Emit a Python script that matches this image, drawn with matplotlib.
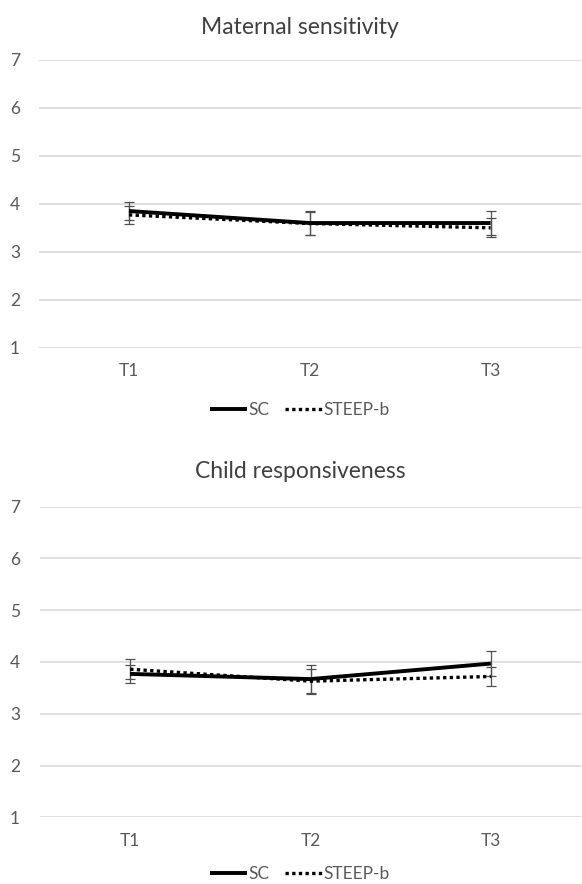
import matplotlib
matplotlib.use("Agg")
import matplotlib.pyplot as plt
import numpy as np

plt.rcParams['font.family'] = ['Lato', 'DejaVu Sans']

timepoints = ["T1", "T2", "T3"]
series_names = ["SC", "STEEP-b"]

# Maternal sensitivity
ms_sc = [3.85, 3.60, 3.60]
ms_sc_err = [0.18, 0.25, 0.25]
ms_steep = [3.77, 3.59, 3.50]
ms_steep_err = [0.18, 0.24, 0.20]

# Child responsiveness
cr_sc = [3.77, 3.67, 3.97]
cr_sc_err = [0.18, 0.28, 0.24]
cr_steep = [3.86, 3.63, 3.72]
cr_steep_err = [0.19, 0.23, 0.18]

titles = ["Maternal sensitivity", "Child responsiveness"]
yticks = [1, 2, 3, 4, 5, 6, 7]

W, H = 582, 884
fig = plt.figure(figsize=(W / 100, H / 100), dpi=100)
fig.patch.set_facecolor("white")

grid_c = "#d9d9d9"
text_c = "#595959"
px2pt = 72 / 100

panels = [
    dict(left=38.5, top=60, bot=347.7, title_y=27, legend_y=410,
         sc=ms_sc, sce=ms_sc_err, st=ms_steep, ste=ms_steep_err, title=titles[0]),
    dict(left=40, top=506.7, bot=817.3, title_y=472, legend_y=874,
         sc=cr_sc, sce=cr_sc_err, st=cr_steep, ste=cr_steep_err, title=titles[1]),
]

right_px = 581
for p in panels:
    left_px = p["left"]
    ax = fig.add_axes([left_px / W, 1 - p["bot"] / H, (right_px - left_px) / W, (p["bot"] - p["top"]) / H])
    x = np.arange(len(timepoints))
    ax.errorbar(x, p["st"], yerr=p["ste"], fmt="none", ecolor="#505050", elinewidth=0.9,
                capsize=3.5, capthick=0.9, zorder=3)
    ax.errorbar(x, p["sc"], yerr=p["sce"], fmt="none", ecolor="#505050", elinewidth=0.9,
                capsize=3.5, capthick=0.9, zorder=3)
    l1, = ax.plot(x, p["sc"], color="black", lw=2.8, solid_capstyle="butt", label=series_names[0], zorder=4)
    l2, = ax.plot(x, p["st"], color="black", lw=2.4, linestyle=(0, (1, 1)), label=series_names[1], zorder=4)
    ax.set_xlim(-0.5, len(timepoints) - 0.5)
    ax.set_ylim(1, 7)
    ax.set_yticks(yticks)
    ax.set_xticks(x)
    ax.set_xticklabels(timepoints)
    ax.grid(axis="y", color=grid_c, lw=1.2)
    ax.set_axisbelow(True)
    for s in ax.spines.values():
        s.set_visible(False)
    ax.tick_params(axis="both", length=0, colors=text_c, labelsize=12.5)
    ax.tick_params(axis="x", pad=11)
    ax.tick_params(axis="y", pad=(left_px - 20) * px2pt)
    fig.text(300 / W, 1 - p["title_y"] / H, p["title"],
             ha="center", va="center", fontsize=16.5, color="#404040")
    fig.legend(handles=[l1, l2], loc="center", bbox_to_anchor=(300 / W, 1 - p["legend_y"] / H),
               ncol=2, frameon=False, fontsize=12.5, handlelength=2.1, handletextpad=0.1,
               columnspacing=0.9, labelcolor=text_c, borderpad=0.2)

fig.savefig("out.png", dpi=100, facecolor="white")
